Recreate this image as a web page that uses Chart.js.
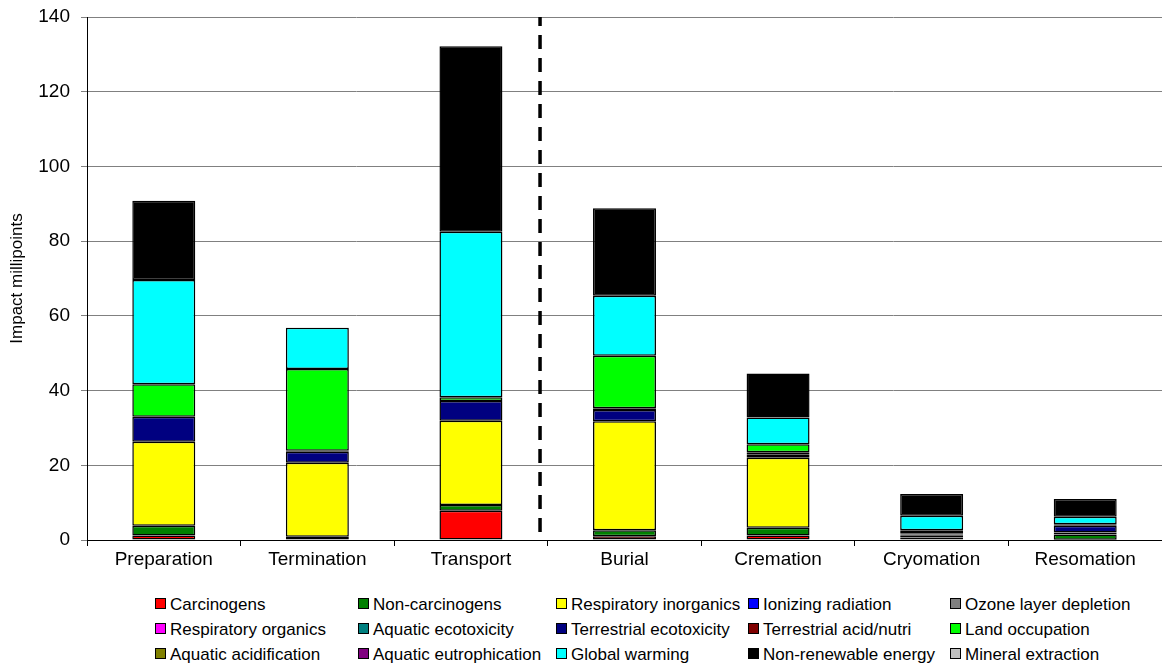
<!DOCTYPE html>
<html>
<head>
<meta charset="utf-8">
<script src="https://cdn.jsdelivr.net/npm/chart.js@4.4.1/dist/chart.umd.min.js"></script>
<style>
  body { margin: 0; background: #fff; font-family: "Liberation Sans", Arial, sans-serif; }
  #wrap { position: relative; width: 1162px; height: 666px; }
  #legend { position: absolute; left: 0; top: 595px; width: 1162px; height: 71px; }
  .item { position: absolute; font-size: 17px; line-height: 20px; white-space: nowrap; color: #000; }
  .item span.box { display: inline-block; width: 9px; height: 9px; border: 1px solid #000; margin-right: 4px; vertical-align: 1px; }
</style>
</head>
<body>
<div id="wrap">
  <canvas id="chart" width="1162" height="590"></canvas>
  <div id="legend"></div>
</div>
<script>
// categories and series (milli-points)
var categories = ['Preparation', 'Termination', 'Transport', 'Burial', 'Cremation', 'Cryomation', 'Resomation'];

var carcinogens        = [1.2, 0.0, 7.8, 1.0, 1.2, 0.7, 0.1];
var nonCarcinogens     = [2.6, 0.9, 1.6, 1.6, 2.1, 0.6, 1.4];
var respInorganics     = [22.5, 19.8, 22.5, 29.2, 18.7, 0.2, 0.5];
var ionizingRadiation  = [0, 0, 0, 0, 0, 0, 0];
var ozoneDepletion     = [0, 0, 0, 0, 0, 0, 0];
var respOrganics       = [0, 0, 0, 0, 0, 0, 0];
var aquaticEcotox      = [0, 0, 0, 0, 0, 0, 0];
var terrestrialEcotox  = [6.7, 2.9, 5.3, 3.0, 0.8, 0.3, 1.8];
var terrestrialAcid    = [0, 0.3, 0, 0.5, 0.7, 0, 0.2];
var landOccupation     = [8.7, 21.9, 1.0, 14.0, 2.1, 0.8, 0.2];
var aquaticAcid        = [0, 0, 0, 0, 0, 0, 0];
var aquaticEutroph     = [0, 0, 0, 0, 0, 0, 0];
var globalWarming      = [27.9, 11.0, 44.3, 16.1, 7.2, 3.9, 2.0];
var nonRenewable       = [21.2, 0, 49.7, 23.4, 11.8, 5.8, 4.8];
var mineralExtraction  = [0, 0, 0, 0, 0, 0, 0];

var yTicks = [0, 20, 40, 60, 80, 100, 120, 140];

var series = [
    ['Carcinogens', carcinogens, '#ff0000'],
    ['Non-carcinogens', nonCarcinogens, '#008000'],
    ['Respiratory inorganics', respInorganics, '#ffff00'],
    ['Ionizing radiation', ionizingRadiation, '#0000ff'],
    ['Ozone layer depletion', ozoneDepletion, '#808080'],
    ['Respiratory organics', respOrganics, '#ff00ff'],
    ['Aquatic ecotoxicity', aquaticEcotox, '#008080'],
    ['Terrestrial ecotoxicity', terrestrialEcotox, '#000080'],
    ['Terrestrial acid/nutri', terrestrialAcid, '#800000'],
    ['Land occupation', landOccupation, '#00ff00'],
    ['Aquatic acidification', aquaticAcid, '#808000'],
    ['Aquatic eutrophication', aquaticEutroph, '#800080'],
    ['Global warming', globalWarming, '#00ffff'],
    ['Non-renewable energy', nonRenewable, '#000000'],
    ['Mineral extraction', mineralExtraction, '#c0c0c0']
];

var datasets = series.map(function (s) {
    return {
        label: s[0],
        // empty segments are left out so they draw no border
        data: s[1].map(function (v) { return v === 0 ? null : v; }),
        backgroundColor: s[2],
        borderColor: '#000',
        borderWidth: 1.5,
        borderSkipped: false,
        categoryPercentage: 1.0,
        barPercentage: 0.41
    };
});

// dashed divider between the first three and last four categories
var divider = {
    id: 'divider',
    afterDatasetsDraw: function (chart) {
        var x = chart.scales.x.getPixelForValue(2.45);
        var y = chart.scales.y;
        var c = chart.ctx;
        c.save();
        c.strokeStyle = '#000';
        c.lineWidth = 3.5;
        c.setLineDash([14, 9]);
        c.lineDashOffset = 5;
        c.beginPath();
        c.moveTo(x, y.getPixelForValue(140));
        c.lineTo(x, y.getPixelForValue(0));
        c.stroke();
        c.restore();
    }
};

Chart.defaults.font.family = '"Liberation Sans", Arial, sans-serif';
Chart.defaults.color = '#000';

var ctx = document.getElementById('chart').getContext('2d');
var myChart = new Chart(ctx, {
    type: 'bar',
    data: { labels: categories, datasets: datasets },
    options: {
        responsive: false,
        animation: false,
        layout: { padding: { top: 17, right: 0, left: 0, bottom: 0 } },
        plugins: { legend: { display: false }, tooltip: { enabled: false } },
        scales: {
            x: {
                stacked: true,
                offset: true,
                grid: { offset: true, drawOnChartArea: false, drawTicks: true, tickLength: 6, color: '#000' },
                border: { color: '#000', width: 1 },
                ticks: { font: { size: 19 }, padding: 2, color: '#000' },
                afterFit: function (s) { s.height = 50; }
            },
            y: {
                stacked: true,
                min: 0,
                max: 140,
                afterBuildTicks: function (s) { s.ticks = yTicks.map(function (v) { return { value: v }; }); },
                grid: { color: '#808080', lineWidth: 1, tickLength: 6 },
                border: { color: '#000', width: 1 },
                ticks: { font: { size: 19 }, padding: 11, color: '#000' },
                title: { display: true, text: 'Impact millipoints', font: { size: 17 }, padding: { top: 7, bottom: 0 }, color: '#000' },
                afterFit: function (s) { s.width = 87; s.paddingTop = 0; s.paddingBottom = 0; }
            }
        }
    },
    plugins: [divider]
});

// legend in a 5-column grid like the original
var colX = [155, 358, 556, 748, 950];
var rowY = [0, 25, 50];
var legend = document.getElementById('legend');
series.forEach(function (s, i) {
    var d = document.createElement('div');
    d.className = 'item';
    d.style.left = colX[i % 5] + 'px';
    d.style.top = rowY[Math.floor(i / 5)] + 'px';
    d.innerHTML = '<span class="box" style="background:' + s[2] + '"></span>' + s[0];
    legend.appendChild(d);
});
</script>
</body>
</html>
